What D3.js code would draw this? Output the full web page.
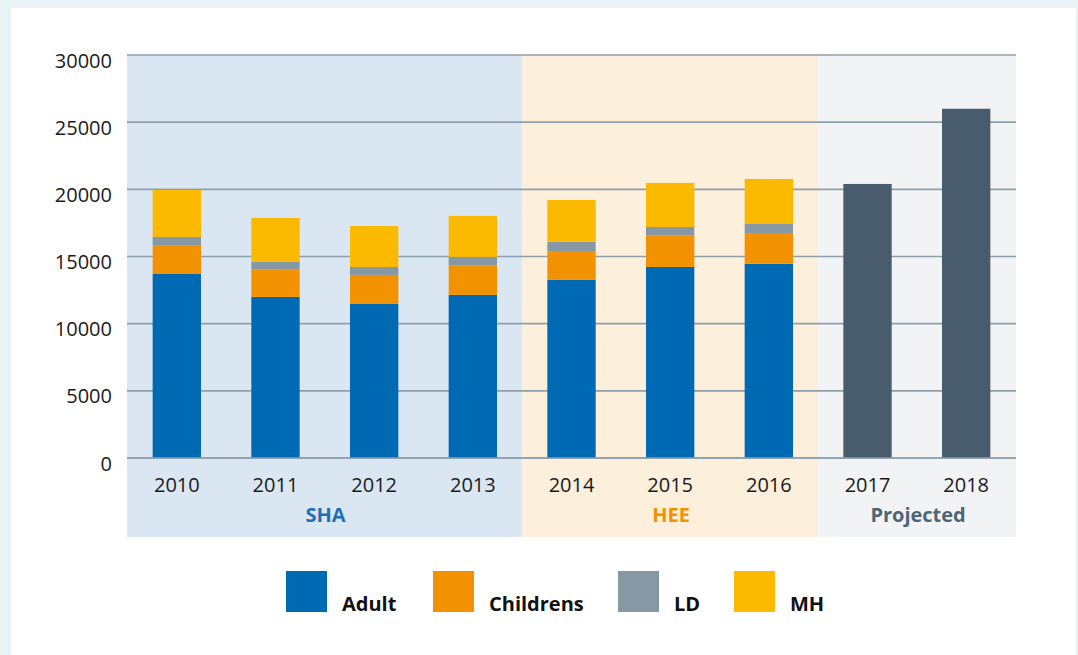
<!DOCTYPE html>
<html>
<head>
<meta charset="utf-8">
<script src="https://cdn.jsdelivr.net/npm/d3@7"></script>
<style>
  html, body { margin: 0; padding: 0; background: #e9f2f5; }
  svg { display: block; }
  text { font-family: "Open Sans", "Noto Sans", sans-serif; }
</style>
</head>
<body>
<svg id="chart" width="1078" height="655"></svg>
<script>
const years = ["2010","2011","2012","2013","2014","2015","2016","2017","2018"];
const seriesNames = ["Adult","Childrens","LD","MH"];
const adult     = [13700, 11990, 11470, 12140, 13280, 14220, 14470, null, null];
const childrens = [2150, 2030, 2160, 2180, 2130, 2330, 2280, null, null];
const ld        = [610, 600, 590, 650, 700, 650, 670, null, null];
const mh        = [3490, 3250, 3050, 3050, 3100, 3280, 3350, null, null];
const projected = [null, null, null, null, null, null, null, 20400, 26000];
const yTicks = [0, 5000, 10000, 15000, 20000, 25000, 30000];
const groups = [
  {name: "SHA", from: "2010", to: "2013"},
  {name: "HEE", from: "2014", to: "2016"},
  {name: "Projected", from: "2017", to: "2018"}
];
const seriesColors = ["#0069b4", "#f39200", "#8798a5", "#fbb900"];
const projectedColor = "#485c6e";
const groupBg = ["#dae7f2", "#fcefdb", "#f1f3f5"];
const groupText = ["#1f6fb6", "#f39200", "#4f6479"];

const svg = d3.select("#chart");
svg.append("rect").attr("x", 0).attr("y", 0).attr("width", 1078).attr("height", 655).attr("fill", "#e9f2f5");
svg.append("rect").attr("x", 11).attr("y", 8).attr("width", 1065).attr("height", 660).attr("fill", "#ffffff");

const pLeft = 127, pRight = 1016, pTop = 55, pBottom = 458, bgBottom = 537;
const x = d3.scaleBand().domain(years).range([pLeft, pRight]).paddingInner(0.51).paddingOuter(0.26);
const y = d3.scaleLinear().domain([0, 30000]).range([pBottom, pTop]);

const step = x.step();
function edgeLeft(yr) { const i = years.indexOf(yr); return i === 0 ? pLeft : x(yr) + x.bandwidth()/2 - step/2; }
function edgeRight(yr) { const i = years.indexOf(yr); return i === years.length-1 ? pRight : x(yr) + x.bandwidth()/2 + step/2; }

// region backgrounds
groups.forEach((g, i) => {
  const x0 = edgeLeft(g.from), x1 = edgeRight(g.to);
  svg.append("rect").attr("x", x0).attr("y", pTop).attr("width", x1 - x0).attr("height", bgBottom - pTop).attr("fill", groupBg[i]);
});

// gridlines
svg.append("g").selectAll("line").data(yTicks).join("line")
  .attr("x1", pLeft).attr("x2", pRight)
  .attr("y1", d => y(d)).attr("y2", d => y(d))
  .attr("stroke", "#8e9fac").attr("stroke-width", 1.6);

// y axis labels
const yAxis = d3.axisLeft(y).tickValues(yTicks).tickSize(0).tickPadding(15).tickFormat(d3.format("d"));
const yg = svg.append("g").attr("transform", `translate(${pLeft},0)`).call(yAxis);
yg.select(".domain").remove();
yg.selectAll("text").attr("font-size", 20).attr("fill", "#1a1a1a").attr("dy", "0.6em")
  .attr("font-family", "'Open Sans', sans-serif");

// stacked bars
const rows = years.map((yr, i) => ({year: yr, Adult: adult[i] || 0, Childrens: childrens[i] || 0, LD: ld[i] || 0, MH: mh[i] || 0}));
const stack = d3.stack().keys(seriesNames)(rows);
stack.forEach((layer, li) => {
  svg.append("g").selectAll("rect").data(layer.filter(d => d[1] > d[0])).join("rect")
    .attr("x", d => x(d.data.year)).attr("width", x.bandwidth())
    .attr("y", d => y(d[1])).attr("height", d => y(d[0]) - y(d[1]))
    .attr("fill", seriesColors[li]);
});
svg.append("g").selectAll("rect").data(years.map((yr, i) => ({year: yr, v: projected[i]})).filter(d => d.v != null)).join("rect")
  .attr("x", d => x(d.year)).attr("width", x.bandwidth())
  .attr("y", d => y(d.v)).attr("height", d => y(0) - y(d.v))
  .attr("fill", projectedColor);

// re-draw zero line on top
svg.append("line").attr("x1", pLeft).attr("x2", pRight).attr("y1", y(0)).attr("y2", y(0))
  .attr("stroke", "#8e9fac").attr("stroke-width", 1.6);

// x axis labels
const xAxis = d3.axisBottom(x).tickSize(0).tickPadding(20);
const xg = svg.append("g").attr("transform", `translate(0,${pBottom})`).call(xAxis);
xg.select(".domain").remove();
xg.selectAll("text").attr("font-size", 20).attr("fill", "#1a1a1a")
  .attr("font-family", "'Open Sans', sans-serif");

// group labels
groups.forEach((g, i) => {
  const x0 = edgeLeft(g.from), x1 = edgeRight(g.to);
  svg.append("text").attr("x", (x0 + x1) / 2 + 1).attr("y", 522)
    .attr("text-anchor", "middle").attr("font-size", 20).attr("font-weight", "bold")
    .attr("font-family", "Lato, 'Open Sans', sans-serif")
    .attr("fill", groupText[i]).text(g.name);
});

// legend
const legendX = [286, 433, 618, 734];
const lg = svg.append("g");
seriesNames.forEach((s, i) => {
  lg.append("rect").attr("x", legendX[i]).attr("y", 571).attr("width", 41).attr("height", 41).attr("fill", seriesColors[i]);
  lg.append("text").attr("x", legendX[i] + 56).attr("y", 611)
    .attr("font-size", 20).attr("font-weight", "bold").attr("fill", "#111")
    .attr("font-family", "Lato, 'Open Sans', sans-serif").text(s);
});
</script>
</body>
</html>
